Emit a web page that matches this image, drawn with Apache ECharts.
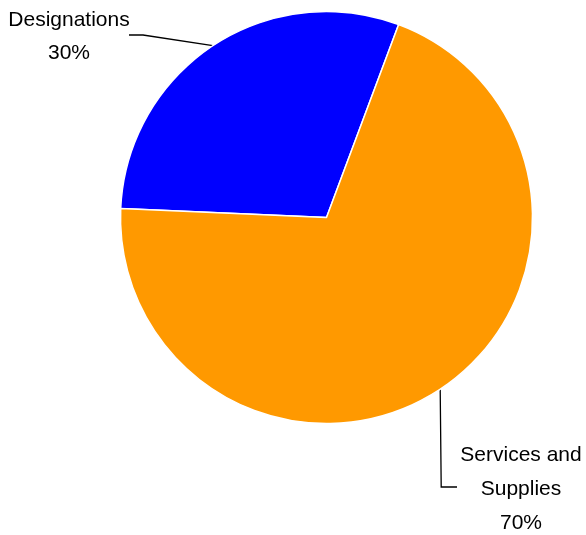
<!DOCTYPE html>
<html>
<head>
<meta charset="utf-8">
<script src="https://cdn.jsdelivr.net/npm/echarts@6/dist/echarts.min.js"></script>
<style>
  html, body { margin: 0; padding: 0; background: #ffffff; }
  #chart { width: 586px; height: 535px; }
</style>
</head>
<body>
<div id="chart"></div>
<script>
// Share of spending by category (percent)
const categories = ['Designations', 'Services and\nSupplies'];
const shares = [30, 70];
const sliceColors = ['#0000FF', '#FF9900'];

const chart = echarts.init(document.getElementById('chart'), null, { renderer: 'canvas' });

const labelFont = {
  color: '#000000',
  fontFamily: '"Liberation Sans", Arial, sans-serif',
  fontSize: 21,
  align: 'center'
};

chart.setOption({
  animation: false,
  backgroundColor: '#ffffff',
  series: [{
    type: 'pie',
    center: [326.5, 217.5],
    radius: 206,
    startAngle: 177.5,
    clockwise: true,
    avoidLabelOverlap: false,
    itemStyle: { borderColor: '#ffffff', borderWidth: 1.5 },
    label: {
      show: true,
      position: 'outside',
      formatter: p => p.name + '\n' + p.value + '%',
      ...labelFont,
      lineHeight: 33
    },
    labelLine: {
      show: true,
      lineStyle: { color: '#000000', width: 1.3 }
    },
    labelLayout: function (params) {
      const start = params.labelLinePoints ? params.labelLinePoints[0] : null;
      if (params.dataIndex === 0) {
        const out = { x: 69, y: 4, align: 'center', verticalAlign: 'top' };
        if (start) {
          out.labelLinePoints = [start, [143, 35], [129, 35]];
        }
        return out;
      }
      const out = { x: 521, y: 438, align: 'center', verticalAlign: 'top' };
      if (start) {
        out.labelLinePoints = [start, [start[0] + 1, 487], [457, 487]];
      }
      return out;
    },
    data: categories.map((name, i) => ({
      name: name,
      value: shares[i],
      itemStyle: { color: sliceColors[i] },
      label: i === 1 ? { lineHeight: 34 } : {}
    }))
  }]
});
</script>
</body>
</html>
